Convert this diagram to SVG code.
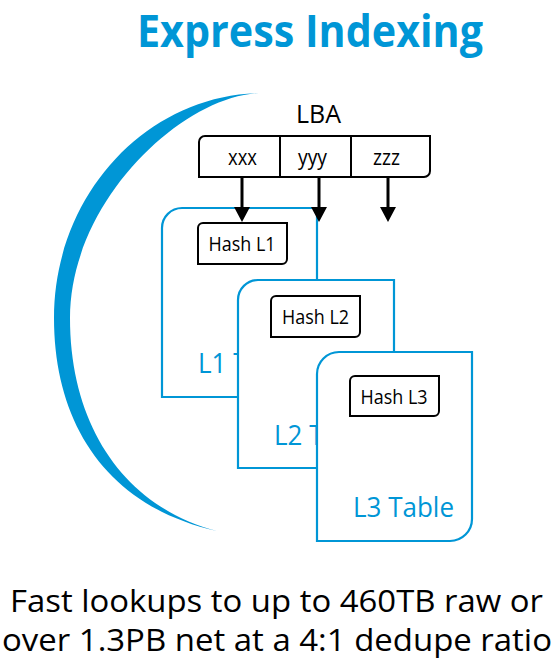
<svg xmlns="http://www.w3.org/2000/svg" width="554" height="670" viewBox="0 0 554 670">
<style>
  text { font-family: "Open Sans", "Liberation Sans", sans-serif; }
  .title { font-weight: bold; fill: #0096D6; font-size: 44px; }
  .blk { fill: #000; }
  .tbl { fill: #fff; stroke: #0096D6; stroke-width: 2.2; }
  .tbltxt { fill: #0096D6; font-size: 28px; }
  .hash { fill: #fff; stroke: #000; stroke-width: 2; }
  .hashtxt { fill: #000; font-size: 20px; }
  .conn { stroke: #000; stroke-width: 3; fill: none; marker-end: url(#ah); }
</style>
<defs>
  <marker id="ah" viewBox="0 0 15 16" refX="0" refY="8" markerWidth="15" markerHeight="16" markerUnits="userSpaceOnUse" orient="auto">
    <path d="M0,0 L15,8 L0,16 Z" fill="#000"/>
  </marker>
</defs>
<rect width="554" height="670" fill="#fff"/>
<text class="title" x="310" y="47" text-anchor="middle" textLength="346" lengthAdjust="spacingAndGlyphs">Express Indexing</text>
<g id="arc">
  <path d="M263,93 C148,93 54,194 54,318 C54,425 108,507 217,531 C128,508 70,430 70,318 C70,200 185,93 263,93 Z" fill="#0096D6"/>
</g>
<g id="l1table">
  <path class="tbl" d="M162,228 A20,20 0 0 1 182,208 H317 V377 A20,20 0 0 1 297,397 H162 Z"/>
  <text class="tbltxt" x="198" y="373" textLength="101" lengthAdjust="spacingAndGlyphs">L1 Table</text>
  <g id="hashl1">
    <path class="hash" d="M198,228 A5,5 0 0 1 203,223 H287 V259 A5,5 0 0 1 282,264 H198 Z"/>
    <text class="hashtxt" x="242" y="251" text-anchor="middle" textLength="67" lengthAdjust="spacingAndGlyphs">Hash L1</text>
  </g>
</g>
<g id="l2table">
  <path class="tbl" d="M238,300 A20,20 0 0 1 258,280 H394 V448 A20,20 0 0 1 374,468 H238 Z"/>
  <text class="tbltxt" x="274" y="445" textLength="101" lengthAdjust="spacingAndGlyphs">L2 Table</text>
  <g id="hashl2">
    <path class="hash" d="M271,301 A5,5 0 0 1 276,296 H360 V332 A5,5 0 0 1 355,337 H271 Z"/>
    <text class="hashtxt" x="315.5" y="324" text-anchor="middle" textLength="67" lengthAdjust="spacingAndGlyphs">Hash L2</text>
  </g>
</g>
<g id="l3table">
  <path class="tbl" d="M317,374 A22,22 0 0 1 339,352 H472 V519 A22,22 0 0 1 450,541 H317 Z"/>
  <text class="tbltxt" x="353" y="517" textLength="101" lengthAdjust="spacingAndGlyphs">L3 Table</text>
  <g id="hashl3">
    <path class="hash" d="M350,381 A5,5 0 0 1 355,376 H439 V411 A5,5 0 0 1 434,416 H350 Z"/>
    <text class="hashtxt" x="394" y="404" text-anchor="middle" textLength="67" lengthAdjust="spacingAndGlyphs">Hash L3</text>
  </g>
</g>
<g id="lba">
  <text class="blk" x="318.5" y="123" font-size="25" text-anchor="middle" textLength="45" lengthAdjust="spacingAndGlyphs">LBA</text>
  <path d="M199,142 A6,6 0 0 1 205,136 H430 V171 A6,6 0 0 1 424,177 H199 Z" fill="#fff" stroke="#000" stroke-width="2"/>
  <line x1="280" y1="136" x2="280" y2="177" stroke="#000" stroke-width="2"/>
  <line x1="351" y1="136" x2="351" y2="177" stroke="#000" stroke-width="2"/>
  <text class="blk" x="242.5" y="165" font-size="21" text-anchor="middle" textLength="29" lengthAdjust="spacingAndGlyphs">xxx</text>
  <text class="blk" x="312.5" y="165" font-size="21" text-anchor="middle" textLength="29" lengthAdjust="spacingAndGlyphs">yyy</text>
  <text class="blk" x="386.5" y="165" font-size="21" text-anchor="middle" textLength="27" lengthAdjust="spacingAndGlyphs">zzz</text>
</g>
<g id="connectors">
  <line class="conn" x1="242" y1="177" x2="242" y2="207"/>
  <line class="conn" x1="319" y1="177" x2="319" y2="207"/>
  <line class="conn" x1="388" y1="177" x2="388" y2="207"/>
</g>
<text class="blk" x="276.5" y="612" font-size="31" text-anchor="middle" textLength="533" lengthAdjust="spacingAndGlyphs">Fast lookups to up to 460TB raw or</text>
<text class="blk" x="277" y="651" font-size="31" text-anchor="middle" textLength="550" lengthAdjust="spacingAndGlyphs">over 1.3PB net at a 4:1 dedupe ratio</text>
</svg>
